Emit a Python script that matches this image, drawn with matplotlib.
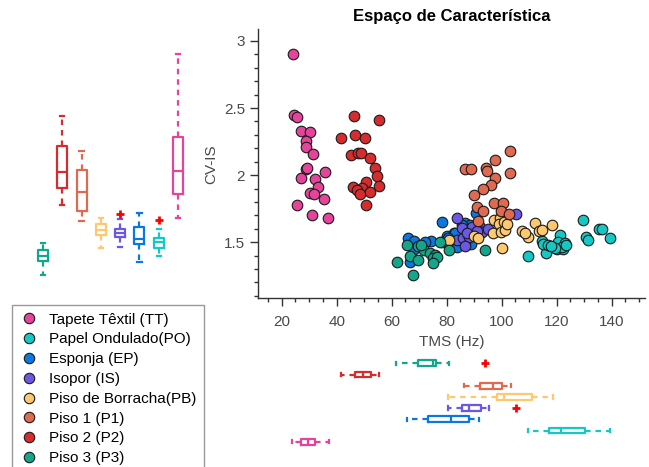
import matplotlib
matplotlib.use("Agg")
import matplotlib.pyplot as plt
from matplotlib.ticker import MultipleLocator, FuncFormatter
from matplotlib.lines import Line2D

plt.rcParams['font.family'] = ['Liberation Sans', 'DejaVu Sans']

# ---------------- data ----------------
CLASSES = ["Tapete Têxtil (TT)", "Papel Ondulado(PO)", "Esponja (EP)", "Isopor (IS)",
           "Piso de Borracha(PB)", "Piso 1 (P1)", "Piso 2 (P2)", "Piso 3 (P3)"]
COLORS = ["#e6449a", "#14c8c6", "#0a78e2", "#6b58e4", "#fec86e", "#e06a50", "#d62c2e", "#12a78a"]

TT_TMS = [24.2, 24.6, 25.5, 26.9, 30.3, 28.7, 28.7, 31.3, 28.7, 29.3, 27.0, 35.9, 32.2, 33.4, 30.3, 31.9, 35.3, 25.6, 31.0, 37.0]
TT_CV = [2.90, 2.45, 2.435, 2.33, 2.325, 2.255, 2.21, 2.16, 2.045, 2.05, 1.98, 2.02, 1.97, 1.91, 1.868, 1.863, 1.82, 1.778, 1.70, 1.683]

PO_TMS = [129.7, 130.5, 131.2, 135.2, 136.5, 139.4, 109.7, 116.1, 114.5, 115.1, 117.0, 121.3, 120.6, 123.0, 120.0, 122.2, 121.8, 119.4, 123.5, 118.0]
PO_CV = [1.664, 1.538, 1.520, 1.596, 1.596, 1.530, 1.398, 1.416, 1.509, 1.490, 1.476, 1.555, 1.504, 1.492, 1.453, 1.453, 1.465, 1.455, 1.478, 1.47]

EP_TMS = [78.4, 65.8, 68.1, 74.2, 68.2, 66.5, 80.2, 82.7, 83.6, 88.7, 86.7, 90.8, 88.5, 78.2, 85.4, 83.0, 86.7, 72.0, 80.5]
EP_CV = [1.647, 1.535, 1.510, 1.510, 1.453, 1.352, 1.545, 1.565, 1.465, 1.485, 1.640, 1.715, 1.627, 1.502, 1.627, 1.572, 1.502, 1.50, 1.53]

IS_TMS = [83.8, 105.3, 83.6, 86.0, 85.5, 92.1, 92.7, 95.1, 89.7, 89.1, 88.1, 80.4, 87.5, 91.0, 86.5]
IS_CV = [1.677, 1.709, 1.520, 1.528, 1.603, 1.614, 1.577, 1.595, 1.595, 1.614, 1.540, 1.50, 1.57, 1.585, 1.47]

PB_TMS = [80.7, 90.0, 91.5, 97.0, 97.3, 99.4, 99.1, 100.9, 99.7, 101.2, 100.0, 107.3, 109.4, 112.1, 113.6, 118.2, 108.5, 101.8, 114.5]
PB_CV = [1.520, 1.545, 1.528, 1.570, 1.669, 1.684, 1.634, 1.651, 1.577, 1.590, 1.460, 1.580, 1.540, 1.644, 1.585, 1.630, 1.572, 1.639, 1.59]

P1_TMS = [102.9, 97.7, 86.7, 88.7, 94.3, 94.5, 103.0, 97.6, 96.1, 93.3, 89.9, 97.2, 100.5, 91.1, 93.3, 99.7, 102.8, 91.3]
P1_CV = [2.181, 2.112, 2.045, 2.045, 2.055, 2.032, 2.017, 1.980, 1.930, 1.896, 1.851, 1.789, 1.796, 1.759, 1.731, 1.731, 1.714, 1.659]

P2_TMS = [46.3, 55.5, 41.7, 46.5, 50.2, 45.1, 47.6, 48.8, 52.2, 53.8, 54.5, 55.3, 46.0, 50.5, 49.3, 47.3, 48.5, 52.2, 50.5]
P2_CV = [2.443, 2.410, 2.278, 2.299, 2.274, 2.147, 2.162, 2.162, 2.125, 2.055, 1.993, 1.920, 1.913, 1.946, 1.901, 1.888, 1.856, 1.875, 1.778]

P3_TMS = [61.8, 67.7, 65.5, 69.7, 71.9, 66.7, 69.5, 74.0, 75.7, 75.1, 76.4, 75.1, 77.7, 80.7, 93.9, 70.5]
P3_CV = [1.349, 1.259, 1.478, 1.472, 1.443, 1.397, 1.370, 1.416, 1.405, 1.380, 1.388, 1.343, 1.498, 1.440, 1.440, 1.483]

# box statistics (order TT, PO, EP, IS, PB, P1, P2, P3)
CV_WHISLO = [1.681, 1.398, 1.353, 1.468, 1.460, 1.659, 1.778, 1.259]
CV_Q1 = [1.863, 1.460, 1.487, 1.540, 1.555, 1.734, 1.905, 1.363]
CV_MED = [2.030, 1.500, 1.522, 1.572, 1.590, 1.876, 2.022, 1.400]
CV_Q3 = [2.286, 1.535, 1.614, 1.597, 1.634, 2.040, 2.216, 1.440]
CV_WHISHI = [2.903, 1.597, 1.719, 1.672, 1.681, 2.181, 2.440, 1.495]
CV_FLIERS = [[], [1.662], [], [1.709], [], [], [], []]

TMS_WHISLO = [23.9, 109.5, 65.5, 80.4, 80.6, 86.4, 41.6, 61.6]
TMS_Q1 = [26.9, 117.3, 73.3, 85.4, 98.2, 92.1, 46.7, 69.4]
TMS_MED = [29.6, 121.5, 81.7, 88.1, 100.8, 96.7, 49.7, 75.1]
TMS_Q3 = [32.2, 130.2, 88.0, 92.4, 111.1, 100.2, 52.5, 76.0]
TMS_WHISHI = [37.1, 139.4, 91.7, 95.4, 118.5, 103.3, 55.4, 80.8]
TMS_FLIERS = [[], [], [], [105.3], [], [], [], [93.9]]

X_TICKS = [20, 40, 60, 80, 100, 120, 140]
Y_TICKS = [1.5, 2, 2.5, 3]

SERIES_TMS = [TT_TMS, PO_TMS, EP_TMS, IS_TMS, PB_TMS, P1_TMS, P2_TMS, P3_TMS]
SERIES_CV = [TT_CV, PO_CV, EP_CV, IS_CV, PB_CV, P1_CV, P2_CV, P3_CV]

# ---------------- figure ----------------
W, H = 649, 467
fig = plt.figure(figsize=(W / 100, H / 100), dpi=100)

def frac(x0, y0, x1, y1):
    return [x0 / W, 1 - y1 / H, (x1 - x0) / W, (y1 - y0) / H]

TXT = "#4a4a4a"
ax = fig.add_axes(frac(257.7, 29.3, 645, 298.3))
axl = fig.add_axes(frac(33.4, 29.3, 187.6, 298.3), sharey=ax)
axb = fig.add_axes(frac(257.7, 357.7, 645, 447.3), sharex=ax)

for xs, ys, c, lab in zip(SERIES_TMS, SERIES_CV, COLORS, CLASSES):
    ax.scatter(xs, ys, s=58, c=c, edgecolors="#1a1a1a", linewidths=0.8, label=lab, zorder=3)

ax.set_xlim(11.3, 152.1)
ax.set_ylim(1.082, 3.087)
ax.set_xticks(X_TICKS)
ax.set_yticks(Y_TICKS)
ax.xaxis.set_minor_locator(MultipleLocator(5))
ax.yaxis.set_minor_locator(MultipleLocator(0.1))
ax.yaxis.set_major_formatter(FuncFormatter(lambda v, p: "%g" % v))
for s in ["top", "right"]:
    ax.spines[s].set_visible(False)
for s in ["left", "bottom"]:
    ax.spines[s].set_color("#333333")
    ax.spines[s].set_linewidth(1.0)
ax.tick_params(which="major", direction="out", length=6, width=1, color="#333333",
               labelsize=11, labelcolor=TXT)
ax.tick_params(which="minor", direction="out", length=3.2, width=1, color="#333333")
ax.tick_params(axis="x", which="major", pad=6)
ax.tick_params(axis="y", which="major", pad=3)
ax.set_xlabel("TMS (Hz)", fontsize=11, color=TXT, labelpad=4)
ax.set_ylabel("CV-IS", fontsize=11, color=TXT, labelpad=4)
ax.set_title("Espaço de Característica", fontsize=12, fontweight="bold", pad=6)

def make_stats(lo, q1, med, q3, hi, fl):
    return [dict(whislo=a, q1=b, med=m, q3=d, whishi=e, fliers=f)
            for a, b, m, d, e, f in zip(lo, q1, med, q3, hi, fl)]

def style(art, lw=1.6):
    for i, c in enumerate(COLORS):
        art["boxes"][i].set(color=c, linewidth=lw)
        art["medians"][i].set(color=c, linewidth=lw)
        for j in (2 * i, 2 * i + 1):
            art["whiskers"][j].set(color=c, linewidth=lw, linestyle=(0, (2.5, 2.2)))
            art["caps"][j].set(color=c, linewidth=lw)
        art["fliers"][i].set(marker="+", markeredgecolor="red", markersize=6,
                             markeredgewidth=2)

pos = list(range(1, 9))
art_l = axl.bxp(make_stats(CV_WHISLO, CV_Q1, CV_MED, CV_Q3, CV_WHISHI, CV_FLIERS),
                positions=pos, widths=0.52, capwidths=0.22, vert=True, patch_artist=False)
style(art_l)
axl.set_xlim(8.5, 0.5)
axl.axis("off")

art_b = axb.bxp(make_stats(TMS_WHISLO, TMS_Q1, TMS_MED, TMS_Q3, TMS_WHISHI, TMS_FLIERS),
                positions=pos, widths=0.52, capwidths=0.3, vert=False, patch_artist=False)
style(art_b)
axb.set_ylim(0.5, 8.5)
axb.axis("off")

handles = [Line2D([], [], linestyle="none", marker="o", markersize=7.5, markerfacecolor=c,
                  markeredgecolor="#1a1a1a", markeredgewidth=0.8) for c in COLORS]
leg = fig.legend(handles, CLASSES, loc="upper left", bbox_to_anchor=(12 / W, 1 - 305 / H),
                 fontsize=11, frameon=True, fancybox=False, borderpad=0.5,
                 handlelength=1.2, handletextpad=0.72, labelspacing=0.38,
                 borderaxespad=0)
leg.get_frame().set_edgecolor("#808080")
leg.get_frame().set_linewidth(1.0)

fig.savefig("out.png", dpi=100)
